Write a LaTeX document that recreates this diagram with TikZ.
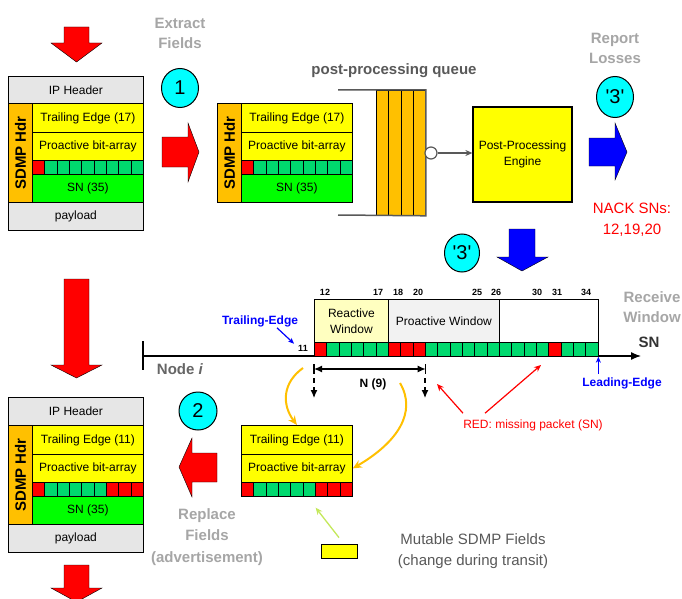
\documentclass[tikz,border=0pt]{standalone}
\usepackage{fontspec}
\setmainfont{Liberation Sans}
\usetikzlibrary{shapes.geometric,arrows.meta}
\definecolor{hdrorange}{HTML}{FFC000}
\definecolor{fldyellow}{HTML}{FFFF00}
\definecolor{sngreen}{HTML}{00FF00}
\definecolor{bitgreen}{HTML}{00D96E}
\definecolor{bitred}{HTML}{FF0000}
\definecolor{hdrgray}{HTML}{E6E6E6}
\definecolor{lighttxt}{HTML}{A6A6A6}
\definecolor{darktxt}{HTML}{595959}
\definecolor{nodetxt}{HTML}{666666}
\definecolor{reactfill}{HTML}{FFFFC0}
\definecolor{proactfill}{HTML}{F2F2F2}
\definecolor{limeline}{HTML}{C4E85A}
\definecolor{circfill}{HTML}{00FFFF}
\definecolor{bluefill}{HTML}{0000FF}
\newcommand\fieldrows[4]{%
  \node[fld, fill=fldyellow, minimum width=111pt, minimum height=29pt] (#1te) at (#2,#3) {Trailing Edge (#4)};
  \node[fld, fill=fldyellow, minimum width=111pt, minimum height=28pt] (#1pa) at (#2,#3+29) {Proactive bit-array};
}
\newcommand\bitrow[4]{%
  \foreach \cc [count=\i from 0] in {#4} {\node[bitcell, fill=\cc] (#1b\i) at (#2+12.333*\i, #3) {};}
}
\newcommand\hdrcol[3]{%
  \node[fld, fill=hdrorange, minimum width=24pt, minimum height=99pt] (#1hdr) at (#2-24,#3) {};
  \node[hdrtxt] (#1hdrtxt) at (#1hdr.center) {SDMP Hdr};
}
\begin{document}
\begin{tikzpicture}[x=1pt,y=-1pt,
  fld/.style={draw=black, line width=0.8pt, inner sep=0pt, anchor=north west, font=\fontsize{12}{14}\selectfont},
  bitcell/.style={draw=black, line width=0.7pt, inner sep=0pt, anchor=north west, minimum width=12.333pt, minimum height=14pt},
  hdrtxt/.style={rotate=90, font=\fontsize{15}{18}\selectfont\bfseries, inner sep=0pt},
  bigtxt/.style={font=\fontsize{15}{20}\selectfont\bfseries, text=lighttxt, align=center, inner sep=0pt},
  blockred/.style={fill=bitred, draw=black, line width=0.4pt},
  blockblue/.style={fill=bluefill, draw=black, line width=0.4pt},
  stepcirc/.style={ellipse, draw=black, line width=1pt, fill=circfill, inner sep=0pt, font=\fontsize{20}{22}\selectfont},
  qbar/.style={draw=black, line width=0.8pt, fill=hdrorange, anchor=north west, inner sep=0pt, minimum width=12.25pt, minimum height=125pt},
  numlbl/.style={font=\fontsize{9}{10}\selectfont\bfseries, inner sep=0pt},
  winbox/.style={draw=black, line width=0.8pt, anchor=north west, inner sep=0pt, minimum height=43pt, align=center, font=\fontsize{12}{16}\selectfont},
  yarrow/.style={draw=hdrorange, line width=2pt, -{Stealth[length=9pt,width=8pt]}},
  redarr/.style={draw=bitred, line width=1.2pt, -{Stealth[length=7pt,width=6pt]}},
  bluearr/.style={draw=bluefill, line width=1.2pt, -{Stealth[length=6pt,width=5pt]}},
  dasharr/.style={draw=black, line width=1.2pt, dash pattern=on 5pt off 4pt, -{Latex[length=8pt,width=7pt]}}
]
\useasboundingbox (0,0) rectangle (682,599);
\fill[white] (0,0) rectangle (682,599);
\clip (0,0) rectangle (682,599);

% ---------- top-left packet ----------
\node[fld, fill=hdrgray, minimum width=135pt, minimum height=27pt] (p1ip) at (8,76) {IP Header};
\hdrcol{p1}{32}{103}
\fieldrows{p1}{32}{103}{17}
\bitrow{p1}{32}{160}{bitred,bitgreen,bitgreen,bitgreen,bitgreen,bitgreen,bitgreen,bitgreen,bitgreen}
\node[fld, fill=sngreen, minimum width=111pt, minimum height=28pt] (p1sn) at (32,174) {SN (35)};
\node[fld, fill=hdrgray, minimum width=135pt, minimum height=28pt] (p1pl) at (8,202) {payload};

% ---------- extracted packet ----------
\hdrcol{p2}{241}{103}
\fieldrows{p2}{241}{103}{17}
\bitrow{p2}{241}{160}{bitred,bitgreen,bitgreen,bitgreen,bitgreen,bitgreen,bitgreen,bitgreen,bitgreen}
\node[fld, fill=sngreen, minimum width=111pt, minimum height=28pt] (p2sn) at (241,174) {SN (35)};

% ---------- bottom-left packet ----------
\node[fld, fill=hdrgray, minimum width=135pt, minimum height=28pt] (p3ip) at (8,397) {IP Header};
\hdrcol{p3}{32}{425}
\fieldrows{p3}{32}{425}{11}
\bitrow{p3}{32}{482}{bitred,bitgreen,bitgreen,bitgreen,bitgreen,bitgreen,bitred,bitred,bitred}
\node[fld, fill=sngreen, minimum width=111pt, minimum height=28pt] (p3sn) at (32,496) {SN (35)};
\node[fld, fill=hdrgray, minimum width=135pt, minimum height=28pt] (p3pl) at (8,524) {payload};

% ---------- advertisement fields ----------
\fieldrows{p4}{241}{425}{11}
\bitrow{p4}{241}{482}{bitred,bitgreen,bitgreen,bitgreen,bitgreen,bitgreen,bitred,bitred,bitred}

% ---------- block arrows ----------
\draw[blockred] (64,27) -- (89,27) -- (89,43) -- (102,43) -- (76.5,62) -- (51,43) -- (64,43) -- cycle;
\draw[blockred] (64,279) -- (89,279) -- (89,365) -- (102,365) -- (76.5,378) -- (51,365) -- (64,365) -- cycle;
\draw[blockred] (64,565) -- (89,565) -- (89,588) -- (102,588) -- (76.5,602) -- (51,588) -- (64,588) -- cycle;
\draw[blockred] (162,137) -- (188,137) -- (188,123) -- (199,152) -- (188,182) -- (188,167) -- (162,167) -- cycle;
\draw[blockred] (217,453) -- (192,453) -- (192,438) -- (179,467) -- (192,497) -- (192,482) -- (217,482) -- cycle;
\draw[blockblue] (589,138) -- (615,138) -- (615,123) -- (627,152) -- (615,180) -- (615,166) -- (589,166) -- cycle;
\draw[blockblue] (509,229) -- (535,229) -- (535,257) -- (548,257) -- (522,271) -- (497,257) -- (509,257) -- cycle;

% ---------- step circles ----------
\node[stepcirc, minimum width=37pt, minimum height=39pt] (s1) at (180,88) {1};
\node[stepcirc, minimum width=37pt, minimum height=41pt] (s3a) at (615,97) {\textquotesingle 3\textquotesingle};
\node[stepcirc, minimum width=35pt, minimum height=38pt] (s3b) at (462,253) {\textquotesingle 3\textquotesingle};
\node[stepcirc, minimum width=38pt, minimum height=38pt] (s2) at (198,411) {2};

% ---------- labels ----------
\node[bigtxt] (extract) at (180,33) {Extract\\Fields};
\node[bigtxt] (report) at (615,48) {Report\\Losses};
\node[bigtxt] (recvwin) at (652,307) {Receive\\Window};
\node[bigtxt, font=\fontsize{15}{21.5}\selectfont\bfseries] (replace) at (207,537) {Replace\\Fields\\(advertisement)};
\node[font=\fontsize{15}{18}\selectfont\bfseries, text=darktxt, inner sep=0pt] (ppq) at (394,71) {post-processing queue};
\node[font=\fontsize{15}{21}\selectfont, text=bitred, align=center, inner sep=0pt] (nack) at (632,220) {NACK SNs:\\12,19,20};

% ---------- queue ----------
\foreach \k in {0,1,2,3} {\node[qbar] (q\k) at (376+12.25*\k, 90) {};}
\draw[darktxt, line width=1.5pt] (338,90) -- (q3.north east) -- (q3.south east) -- (338,215);
\node[circle, draw=darktxt, fill=white, line width=1.2pt, minimum size=12pt, inner sep=0pt] (qout) at (431,153) {};
\node[draw=black, fill=fldyellow, line width=1.2pt, minimum width=99pt, minimum height=95pt, align=center, font=\fontsize{12}{16}\selectfont] (eng) at (522.5,154.5) {Post-Processing\\Engine};
\draw[darktxt, line width=1.2pt, -{Stealth[length=7pt,width=6pt]}] (qout.east) -- (qout.east -| eng.west);

% ---------- receive window ----------
\coordinate (nodestart) at (143,356);
\coordinate (snend) at (641,356);
\draw[line width=1.3pt, -{Latex[length=10pt,width=8pt]}] (nodestart) -- (snend);
\draw[line width=1.3pt] (143,341) -- (143,370);
\node[font=\fontsize{15}{18}\selectfont\bfseries, text=nodetxt, inner sep=0pt] (nodei) at (180,369) {Node \textit{i}};
\node[font=\fontsize{15}{18}\selectfont\bfseries, text=black!80, inner sep=0pt] (snlbl) at (649,342) {SN};

\node[winbox, fill=reactfill, minimum width=74pt] (rwin) at (314,299) {Reactive\\Window};
\node[winbox, fill=proactfill, minimum width=111pt] (pwin) at (388,299) {Proactive Window};
\node[winbox, fill=white, minimum width=98.7pt] (ewin) at (499,299) {};

\foreach \i in {0,...,22} {
  \pgfmathtruncatemacro\sn{12+\i}
  \def\cc{bitgreen}
  \ifnum\sn=12 \def\cc{bitred}\fi
  \ifnum\sn=18 \def\cc{bitred}\fi
  \ifnum\sn=19 \def\cc{bitred}\fi
  \ifnum\sn=20 \def\cc{bitred}\fi
  \ifnum\sn=31 \def\cc{bitred}\fi
  \node[bitcell, fill=\cc] (c\sn) at (314+12.333*\i, 342) {};
}

\node[numlbl] (l12) at (325,292) {12};
\node[numlbl] (l17) at (378,292) {17};
\node[numlbl] (l18) at (398,292) {18};
\node[numlbl] (l20) at (418,292) {20};
\node[numlbl] (l25) at (477,292) {25};
\node[numlbl] (l26) at (496,292) {26};
\node[numlbl] (l30) at (537,292) {30};
\node[numlbl] (l31) at (557,292) {31};
\node[numlbl] (l34) at (586,292) {34};
\node[numlbl] (l11) at (303,348) {11};

\node[font=\fontsize{12}{14}\selectfont\bfseries, text=bluefill, inner sep=0pt] (tetxt) at (260,321) {Trailing-Edge};
\draw[bluearr] ([xshift=17pt,yshift=-1pt]tetxt.south) -- ([xshift=-4pt,yshift=1pt]l11.north west);
\node[font=\fontsize{12}{14}\selectfont\bfseries, text=bluefill, inner sep=0pt] (letxt) at (622,383) {Leading-Edge};
\draw[bluearr] ([yshift=3pt]letxt.north -| c34.south east) -- (c34.south east);

% N (9)
\coordinate (nl) at (c12.south west |- 0,369);
\coordinate (nr) at (c20.south east |- 0,369);
\draw[line width=1.3pt, {Latex[length=8pt,width=7pt]}-{Latex[length=8pt,width=7pt]}] (nl) -- (nr);
\draw[line width=1.3pt] ([yshift=5pt]nl) -- ([yshift=-5pt]nl);
\draw[line width=1.3pt] ([yshift=5pt]nr) -- ([yshift=-5pt]nr);
\node[font=\fontsize{12}{14}\selectfont\bfseries, inner sep=0pt] (nnine) at (373,384) {N (9)};
\coordinate (dl1) at (314,378);
\coordinate (dl2) at (314,398);
\coordinate (dr1) at (425,378);
\coordinate (dr2) at (425,398);
\draw[dasharr] (dl1) -- (dl2);
\draw[dasharr] (dr1) -- (dr2);

% yellow arrows
\coordinate (ya) at (303,368);
\coordinate (yb) at (400,383);
\draw[yarrow] (ya) .. controls (282,383) and (282,405) .. (p4te.north);
\draw[yarrow] (yb) .. controls (417,412) and (398,442) .. (p4pa.east);

% missing packets
\node[font=\fontsize{12}{14}\selectfont, text=bitred, inner sep=0pt] (redtxt) at (533,425) {RED: missing packet (SN)};
\coordinate (rt1) at (437,384);
\coordinate (rt2) at (541,365);
\draw[redarr] ([xshift=-70pt,yshift=6pt]redtxt.north) -- (rt1);
\draw[redarr] ([xshift=-48pt,yshift=6pt]redtxt.north) -- (rt2);

% legend
\node[draw=black, line width=0.8pt, fill=fldyellow, minimum width=36pt, minimum height=14pt, inner sep=0pt] (legend) at (339,551) {};
\draw[limeline, line width=1.3pt, -{Stealth[length=7pt,width=6pt]}] ([yshift=6pt]legend.north) -- ([yshift=-11pt]p4b5.south east);
\node[font=\fontsize{15}{21}\selectfont, text=darktxt, align=center, inner sep=0pt] (mutable) at (473,551) {Mutable SDMP Fields\\(change during transit)};
\end{tikzpicture}
\end{document}
